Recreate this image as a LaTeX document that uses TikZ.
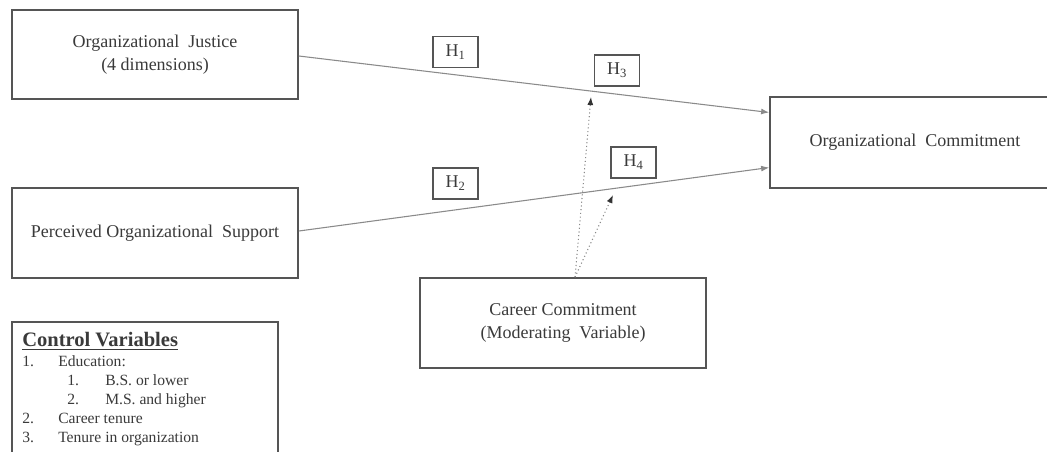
\documentclass[tikz,border=0pt]{standalone}
\usepackage{fontspec}
\setmainfont{Liberation Serif}
\usetikzlibrary{calc,arrows.meta}
\definecolor{boxgray}{HTML}{555555}
\definecolor{linegray}{HTML}{8A8A8A}
\definecolor{txtgray}{HTML}{3A3A3A}
\begin{document}
\begin{tikzpicture}[x=0.75pt,y=-0.75pt,
  mainbox/.style={draw=boxgray,line width=1.3pt,rectangle,inner sep=0pt,text=txtgray,font=\fontsize{13.5}{17}\selectfont,align=center},
  hbox/.style={draw=boxgray,line width=1.1pt,rectangle,minimum width=33.75pt,minimum height=23.25pt,inner sep=0pt,text=txtgray,font=\fontsize{13.5}{16}\selectfont},
  conn/.style={draw=linegray,line width=0.8pt,-{Latex[length=6pt,width=4.5pt]},shorten >=0pt},
  modconn/.style={draw=linegray,line width=0.8pt,dotted,-{Latex[length=6pt,width=4.5pt,color=black!80]}},
  cvtext/.style={anchor=base west,inner sep=0pt,text=txtgray,font=\fontsize{11.7}{14}\selectfont}
]
\useasboundingbox (0,0) rectangle (1047,451);
\clip (0,0) rectangle (1047,451);
\fill[white] (0,0) rectangle (1047,451);

% main boxes
\node[mainbox,minimum width=214.5pt,minimum height=66.75pt] (oj) at (155,54.5) {Organizational\ \ Justice\\(4 dimensions)};
\node[mainbox,minimum width=214.5pt,minimum height=67.5pt] (pos) at (155,233) {Perceived Organizational\ \ Support};
\node[mainbox,minimum width=217.5pt,minimum height=68.25pt] (oc) at (915,142.5) {Organizational\ \ Commitment};
\node[mainbox,minimum width=214.5pt,minimum height=67.5pt] (cc) at (563,323) {Career Commitment\\(Moderating\ \ Variable)};

% hypothesis boxes
\node[hbox] (h1) at (455.5,52) {H\textsubscript{1}};
\node[hbox] (h2) at (455.5,183.5) {H\textsubscript{2}};
\node[hbox] (h3) at (617,70.5) {H\textsubscript{3}};
\node[hbox] (h4) at (633.5,162.5) {H\textsubscript{4}};

% connectors
\coordinate (ojout) at ($(oj.east)+(0,1.5)$);
\coordinate (posout) at ($(pos.east)+(0,-2)$);
\coordinate (ocin1) at ($(oc.north west)!0.176!(oc.south west)$);
\coordinate (ocin2) at ($(oc.north west)!0.77!(oc.south west)$);
\draw[conn] (ojout) -- (ocin1);
\draw[conn] (posout) -- (ocin2);

\coordinate (ccout) at ($(cc.north)+(12,0)$);
\coordinate (tip3) at (591,97);
\coordinate (tip4) at (613,195);
\draw[modconn] (ccout) -- (tip3);
\draw[modconn] (ccout) -- (tip4);

% control variables
\draw[boxgray,line width=1.3pt] (12,470) -- (12,322) -- (278,322) -- (278,470);
\node[anchor=west,inner sep=0pt,text=txtgray,font=\fontsize{15.4}{18}\bfseries] (cvt) at (22,341) {\underline{Control Variables}};
\node[cvtext] (n1) at (22,366) {1.};
\node[cvtext] (t1) at (58,366) {Education:};
\node[cvtext] (n11) at (67,385) {1.};
\node[cvtext] (t11) at (105,385) {B.S. or lower};
\node[cvtext] (n12) at (67,404) {2.};
\node[cvtext] (t12) at (105,404) {M.S. and higher};
\node[cvtext] (n2) at (22,423) {2.};
\node[cvtext] (t2) at (58,423) {Career tenure};
\node[cvtext] (n3) at (22,442) {3.};
\node[cvtext] (t3) at (58,442) {Tenure in organization};
\end{tikzpicture}
\end{document}
